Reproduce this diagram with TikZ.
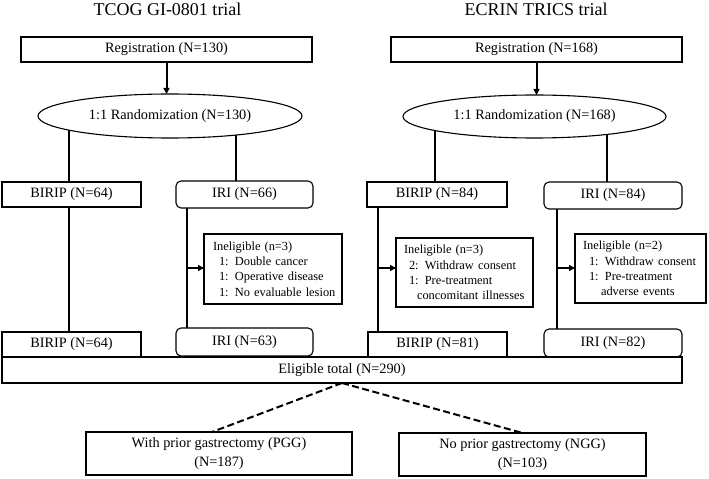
\documentclass[tikz,border=0pt]{standalone}
\usepackage{fontspec}
\setmainfont{Liberation Serif}
\usetikzlibrary{arrows.meta,shapes.geometric}
\begin{document}
\begin{tikzpicture}[x=1bp,y=-1bp,
  every node/.style={inner sep=0pt, outer sep=0pt},
  box/.style={draw, line width=1.1bp, font=\fontsize{14.3bp}{19bp}\selectfont, align=center},
  rbox/.style={box, rounded corners=5bp},
  oval/.style={draw, ellipse, line width=1.1bp, font=\fontsize{14.3bp}{17bp}\selectfont},
  inebox/.style={draw, line width=1.1bp, inner xsep=2bp, font=\fontsize{12.4bp}{15.3bp}\selectfont, align=left},
  link/.style={line width=2bp},
  arr/.style={line width=2bp, -{Triangle[length=6bp,width=6bp]}},
  split/.style={line width=2bp, dash pattern=on 7bp off 3.5bp},
  title/.style={font=\fontsize{18bp}{21bp}\selectfont, anchor=base}
]
\useasboundingbox (0,0) rectangle (709,479);

% trial headings
\node[title] (tL) at (167.5,16) {TCOG GI-0801 trial};
\node[title] (tR) at (536,16) {ECRIN TRICS trial};

% registration and randomization
\node[box, minimum width=291bp, minimum height=25bp] (regL) at (166.5,49.5) {Registration (N=130)};
\node[box, minimum width=291bp, minimum height=25bp] (regR) at (536.5,49.5) {Registration (N=168)};
\node[oval, minimum width=264bp, minimum height=44bp] (ranL) at (170,116) {1:1 Randomization (N=130)};
\node[oval, minimum width=263bp, minimum height=43bp] (ranR) at (534.5,116.5) {1:1 Randomization (N=168)};

% allocated arms
\node[box, minimum width=139bp, minimum height=25bp] (birL1) at (71.5,194.5) {BIRIP (N=64)};
\node[rbox, minimum width=137bp, minimum height=27bp] (iriL1) at (244.5,194.5) {IRI (N=66)};
\node[box, minimum width=140bp, minimum height=25bp] (birR1) at (437,194.5) {BIRIP (N=84)};
\node[rbox, minimum width=138bp, minimum height=27bp] (iriR1) at (613,195.5) {IRI (N=84)};

% exclusions
\node[inebox, text width=134bp, minimum height=70bp] (ineL) at (273,269)
  {\hspace*{7bp}Ineligible (n=3)\\
   \hspace*{13bp}1: Double cancer\\
   \hspace*{13bp}1: Operative disease\\
   \hspace*{13bp}1: No evaluable lesion};
\node[inebox, text width=133bp, minimum height=69bp] (ineRB) at (464.5,272.5)
  {\hspace*{6bp}Ineligible (n=3)\\
   \hspace*{11bp}2: Withdraw consent\\
   \hspace*{11bp}1: Pre-treatment\\
   \hspace*{19bp}concomitant illnesses};
\node[inebox, text width=127bp, minimum height=69bp] (ineRI) at (640.5,268.5)
  {\hspace*{6bp}Ineligible (n=2)\\
   \hspace*{12bp}1: Withdraw consent\\
   \hspace*{12bp}1: Pre-treatment\\
   \hspace*{24bp}adverse events};

% eligible arms and pooled total
\node[box, minimum width=680bp, minimum height=26bp] (elig) at (342,370) {Eligible total (N=290)};
\node[box, minimum width=139bp, minimum height=25bp] (birL2) at (71.5,344.5) {BIRIP (N=64)};
\node[rbox, minimum width=137bp, minimum height=28bp] (iriL2) at (244.5,342) {IRI (N=63)};
\node[box, minimum width=139bp, minimum height=25bp] (birR2) at (437.5,344.5) {BIRIP (N=81)};
\node[rbox, minimum width=138bp, minimum height=28bp] (iriR2) at (613,343) {IRI (N=82)};

% subgroups
\node[box, minimum width=266bp, minimum height=43bp] (pgg) at (219,453.5) {With prior gastrectomy (PGG)\\(N=187)};
\node[box, minimum width=247bp, minimum height=43bp] (ngg) at (522.5,454.5) {No prior gastrectomy (NGG)\\(N=103)};

% connectors
\draw[arr] (regL.south) -- (regL.south |- ranL.north);
\draw[arr] (regR.south) -- (regR.south |- ranR.north);

\draw[link] (ranL.-172.2) -- (ranL.-172.2 |- birL1.north);
\draw[link] (ranL.-16.1) -- (ranL.-16.1 |- iriL1.north);
\draw[link] (ranR.-172.5) -- (ranR.-172.5 |- birR1.north);
\draw[link] (ranR.-14.4) -- (ranR.-14.4 |- iriR1.north);

\draw[link] (ranL.-172.2 |- birL1.south) -- (ranL.-172.2 |- birL2.north);

\coordinate (tapL) at (187,268);
\coordinate (tapRB) at (378,268);
\coordinate (tapRI) at (557,268);
\draw[link] (tapL |- iriL1.south) -- (tapL |- iriL2.north);
\draw[link] (tapRB |- birR1.south) -- (tapRB |- birR2.north);
\draw[link] (tapRI |- iriR1.south) -- (tapRI |- iriR2.north);
\draw[arr] (tapL) -- (tapL -| ineL.west);
\draw[arr] (tapRB) -- (tapRB -| ineRB.west);
\draw[arr] (tapRI) -- (tapRI -| ineRI.west);

\draw[split] (elig.south) -- ([xshift=-7bp]pgg.north);
\draw[split] (elig.south) -- (ngg.north);
\end{tikzpicture}
\end{document}
